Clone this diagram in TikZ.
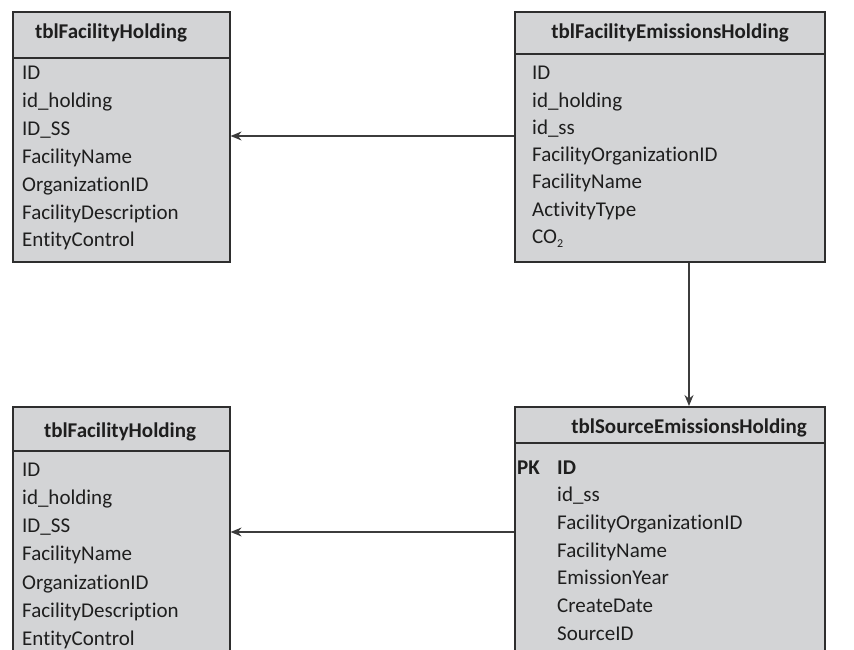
\documentclass[tikz,border=0pt]{standalone}
\usepackage{fontspec}
\setmainfont{Carlito}[Ligatures=NoCommon]
\usetikzlibrary{arrows.meta}
\definecolor{boxfill}{HTML}{D3D4D6}
\definecolor{boxline}{HTML}{2E2E2E}
\definecolor{arrline}{HTML}{3C3C3C}
\definecolor{txt}{HTML}{1E1E1E}
\tikzset{
  tbl/.style={draw=boxline, line width=1.6pt, fill=boxfill, inner sep=0pt, anchor=north west},
  hdrline/.style={draw=boxline, line width=1.2pt},
  hdr/.style={font=\fontsize{21}{23}\selectfont\bfseries, text=txt, anchor=base, inner sep=0pt},
  fld/.style={font=\fontsize{21}{23}\selectfont, text=txt, anchor=base west, inner sep=0pt},
  pk/.style={font=\fontsize{21}{23}\selectfont\bfseries, text=txt, anchor=base west, inner sep=0pt},
  arr/.style={draw=arrline, line width=1.3pt, -{Stealth[length=11pt,width=9pt]}}
}
\begin{document}
\begin{tikzpicture}[x=1pt,y=-1pt]
\useasboundingbox (0,0) rectangle (854,650);
% boxes
\node[tbl, minimum width=217pt, minimum height=250pt] (t1) at (12,11) {};
\node[tbl, minimum width=310pt, minimum height=250pt] (t2) at (514,11) {};
\node[tbl, minimum width=217pt, minimum height=260pt] (t3) at (12,406) {};
\node[tbl, minimum width=310pt, minimum height=260pt] (t4) at (514,406) {};
% header lines
\draw[hdrline] (t1.west |- 0,58) -- (t1.east |- 0,58);
\draw[hdrline] (t2.west |- 0,54) -- (t2.east |- 0,54);
\draw[hdrline] (t3.west |- 0,451) -- (t3.east |- 0,451);
\draw[hdrline] (t4.west |- 0,443) -- (t4.east |- 0,443);
% headers
\node[hdr] (h1) at (111,39) {tblFacilityHolding};
\node[hdr] (h2) at (670,39) {tblFacilityEmissionsHolding};
\node[hdr] (h3) at (120,437) {tblFacilityHolding};
\node[hdr] (h4) at (689,433) {tblSourceEmissionsHolding};
% fields t1
\foreach \t [count=\i from 0] in {ID,id\_holding,ID\_SS,FacilityName,OrganizationID,FacilityDescription,EntityControl}
  \node[fld] (a\i) at (22,80+27.8*\i) {\t};
% fields t2
\foreach \t [count=\i from 0] in {ID,id\_holding,id\_ss,FacilityOrganizationID,FacilityName,ActivityType}
  \node[fld] (b\i) at (532,80+27.2*\i) {\t};
\node[fld] (b6) at (532,243) {CO\raisebox{-0.45ex}{\fontsize{12}{12}\selectfont 2}};
% fields t3
\foreach \t [count=\i from 0] in {ID,id\_holding,ID\_SS,FacilityName,OrganizationID,FacilityDescription,EntityControl}
  \node[fld] (c\i) at (22,476+28.3*\i) {\t};
% fields t4
\node[pk] (pk) at (517,474) {PK};
\node[pk] (d0) at (557,474) {ID};
\foreach \t [count=\i from 1] in {id\_ss,FacilityOrganizationID,FacilityName,EmissionYear,CreateDate,SourceID}
  \node[fld] (d\i) at (557,474+27.7*\i) {\t};
% connectors
\draw[arr] (t2.west |- 0,136) -- (t1.east |- 0,136);
\draw[arr] (t4.west |- 0,532) -- (t3.east |- 0,532);
\draw[arr] (t2.south -| 689,0) -- (t4.north -| 689,0);
\end{tikzpicture}
\end{document}
